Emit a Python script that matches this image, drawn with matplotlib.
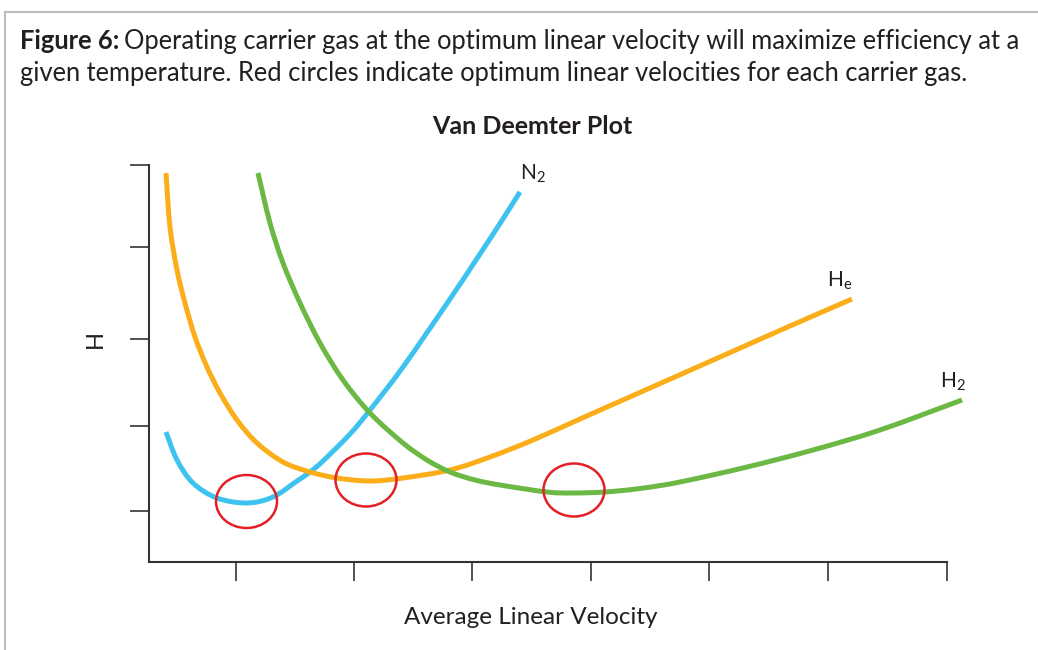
import matplotlib
matplotlib.use("Agg")
import matplotlib.pyplot as plt
from matplotlib.patches import Ellipse, PathPatch
from matplotlib.path import Path
from matplotlib.lines import Line2D

plt.rcParams['font.family'] = ['Lato', 'DejaVu Sans']

# Curves (arbitrary velocity / plate-height units)
n2_x = [0.17, 0.28, 0.44, 0.68, 0.98, 1.24, 1.48, 1.61, 1.74, 2.01, 2.21, 2.54,
        3.01, 3.27, 3.50, 3.71]
n2_h = [1.30, 1.02, 0.79, 0.64, 0.59, 0.65, 0.81, 0.90, 1.01, 1.28, 1.52, 1.95,
        2.63, 3.02, 3.37, 3.70]

he_x = [0.17, 0.21, 0.28, 0.36, 0.46, 0.58, 0.71, 0.88, 1.08, 1.34, 1.61, 1.88,
        2.21, 2.54, 3.01, 3.41, 3.84, 4.31, 5.01, 5.71, 6.41, 7.03]
he_h = [3.89, 3.35, 2.92, 2.59, 2.25, 1.95, 1.69, 1.42, 1.19, 1.00, 0.90, 0.84,
        0.81, 0.84, 0.92, 1.05, 1.22, 1.43, 1.74, 2.05, 2.36, 2.63]

h2_x = [1.09, 1.21, 1.34, 1.51, 1.71, 1.94, 2.21, 2.54, 2.78, 3.01, 3.26, 3.51,
        3.98, 4.24, 4.56, 4.91, 5.31, 5.98, 6.64, 7.31, 8.13]
h2_h = [3.89, 3.39, 2.99, 2.59, 2.19, 1.82, 1.49, 1.19, 1.02, 0.90, 0.82, 0.77,
        0.70, 0.69, 0.70, 0.735, 0.80, 0.95, 1.12, 1.32, 1.62]

# Optimum linear velocities (red circles)
opt_x = [0.975, 2.17, 4.25]
opt_h = [0.605, 0.82, 0.72]

x_ticks = [0.87, 2.05, 3.23, 4.42, 5.60, 6.79, 7.98]
y_ticks = [0.51, 1.36, 2.23, 3.15, 3.97]

TXT = '#231f20'


def smooth_path(xs, ys):
    # Catmull-Rom through the read points, drawn as cubic Bezier segments
    pts = list(zip(xs, ys))
    verts = [pts[0]]
    codes = [Path.MOVETO]
    n = len(pts)
    for i in range(n - 1):
        p0 = pts[max(i - 1, 0)]
        p1 = pts[i]
        p2 = pts[i + 1]
        p3 = pts[min(i + 2, n - 1)]
        c1 = (p1[0] + (p2[0] - p0[0]) / 6, p1[1] + (p2[1] - p0[1]) / 6)
        c2 = (p2[0] - (p3[0] - p1[0]) / 6, p2[1] - (p3[1] - p1[1]) / 6)
        verts += [c1, c2, p2]
        codes += [Path.CURVE4] * 3
    return Path(verts, codes)


W, H = 1038, 650
fig = plt.figure(figsize=(W / 100, H / 100), dpi=100)
fig.patch.set_facecolor('white')

# frame lines (top and left only)
fig.add_artist(Line2D([5 / W, 1], [1 - 12 / H, 1 - 12 / H], color='#bdbdbd', lw=1.5))
fig.add_artist(Line2D([5 / W, 5 / W], [0, 1 - 12 / H], color='#bdbdbd', lw=1.5))

# caption
t1 = fig.text(20 / W, 1 - 49 / H, "Figure 6:", fontsize=18.4, fontweight='bold', color=TXT)
fig.canvas.draw()
bb = t1.get_window_extent()
fig.text((bb.x1 + 5) / W, 1 - 49 / H,
         "Operating carrier gas at the optimum linear velocity will maximize efficiency at a",
         fontsize=18.4, color=TXT)
fig.text(20 / W, 1 - 81 / H,
         "given temperature. Red circles indicate optimum linear velocities for each carrier gas.",
         fontsize=18.4, color=TXT)

ax = fig.add_axes([149 / W, 1 - 562 / H, (947 - 149) / W, (562 - 165) / H])
for xs, ys, c in [(n2_x, n2_h, '#3ec3f0'), (he_x, he_h, '#fbae1a'), (h2_x, h2_h, '#6bb844')]:
    ax.add_patch(PathPatch(smooth_path(xs, ys), fill=False, edgecolor=c, lw=3.6,
                           capstyle='butt', clip_on=False))

for cx, cy in zip(opt_x, opt_h):
    ax.add_patch(Ellipse((cx, cy), 0.61, 0.53, fill=False, edgecolor='#e41f26',
                         lw=1.8, clip_on=False))

ax.text(n2_x[-1] + 0.13, n2_h[-1] + 0.07, r"$\mathregular{N_2}$", fontsize=15,
        color=TXT, ha='center', va='bottom')
ax.text(he_x[-1] - 0.12, he_h[-1] + 0.07, r"$\mathregular{H_e}$", fontsize=15,
        color=TXT, ha='center', va='bottom')
ax.text(h2_x[-1] - 0.09, h2_h[-1] + 0.07, r"$\mathregular{H_2}$", fontsize=15,
        color=TXT, ha='center', va='bottom')

ax.set_xlim(0, x_ticks[-1])
ax.set_ylim(0, y_ticks[-1])
ax.set_xticks(x_ticks)
ax.set_yticks(y_ticks)
ax.set_xticklabels([])
ax.set_yticklabels([])
ax.tick_params(direction='out', length=14, width=1.2, color='#333333')
for s in ['top', 'right']:
    ax.spines[s].set_visible(False)
for s in ['left', 'bottom']:
    ax.spines[s].set_color('#333333')
    ax.spines[s].set_linewidth(1.5)

fig.text(532 / W, 1 - 134 / H, "Van Deemter Plot", fontsize=18, fontweight='bold',
         color=TXT, ha='center')
fig.text(95 / W, 1 - 339 / H, "H", fontsize=17, color=TXT, ha='center', va='center',
         rotation=90)
fig.text(531 / W, 1 - 624 / H, "Average Linear Velocity", fontsize=17.5, color=TXT,
         ha='center')

fig.savefig("out.png", dpi=100)
